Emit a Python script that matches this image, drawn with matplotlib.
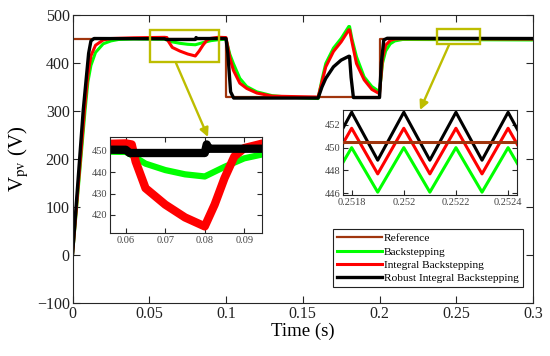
import matplotlib
matplotlib.use("Agg")
import matplotlib.pyplot as plt
from matplotlib.patches import Rectangle

plt.rcParams['font.family'] = ['Liberation Serif', 'DejaVu Serif']
plt.rcParams['mathtext.fontset'] = 'stix'

# ---------------- data ----------------
t_ref = [0, 0.1, 0.1, 0.2, 0.2, 0.3]
v_ref = [450, 450, 330, 330, 450, 450]

t_bs = [0, 0.0082, 0.01, 0.012, 0.015, 0.02, 0.025, 0.03, 0.04, 0.06, 0.0615, 0.065,
        0.07, 0.075, 0.08, 0.085, 0.09, 0.095, 0.1, 0.1025, 0.1048, 0.109, 0.1135,
        0.12, 0.13, 0.14, 0.16, 0.1625, 0.165, 0.17, 0.175, 0.18, 0.1805, 0.182,
        0.185, 0.19, 0.195, 0.2, 0.202, 0.204, 0.207, 0.21, 0.215, 0.22, 0.3]
v_bs = [0, 302, 360, 395, 422, 440, 446, 449, 450, 449.5, 448, 444,
        441, 439, 438, 442.5, 446.5, 448.5, 449.5, 418, 399, 368, 351,
        340, 332, 329, 326, 365, 399, 431, 451, 476, 476, 451,
        413, 371, 351, 340, 400, 425, 440, 446, 449, 449, 448]

t_ibs = [0, 0.0078, 0.01, 0.012, 0.015, 0.02, 0.025, 0.04, 0.06, 0.0615, 0.0625, 0.065,
         0.07, 0.075, 0.08, 0.0825, 0.085, 0.0875, 0.09, 0.095, 0.1, 0.1025, 0.1048,
         0.109, 0.1135, 0.12, 0.13, 0.16, 0.1625, 0.165, 0.17, 0.175, 0.18, 0.1805,
         0.182, 0.185, 0.19, 0.195, 0.2, 0.202, 0.204, 0.207, 0.21, 0.215, 0.3]
v_ibs = [0, 302, 375, 415, 437, 448, 451, 452.5, 453.5, 453, 445, 432.5,
         424.8, 418.8, 414.6, 424.8, 437.2, 447.4, 451.3, 453.6, 453, 411, 385,
         358, 347, 337.5, 331, 329, 360, 392, 424, 444, 469, 469,
         445, 399, 365, 345, 336, 410, 437, 447, 450, 450.5, 450]

t_ribs = [0, 0.007, 0.0105, 0.012, 0.014, 0.06, 0.061, 0.08, 0.0805, 0.081, 0.1,
          0.1012, 0.103, 0.105, 0.16, 0.1625, 0.165, 0.17, 0.175, 0.18, 0.1805,
          0.1815, 0.183, 0.2, 0.2012, 0.2028, 0.205, 0.3]
v_ribs = [0, 302, 420, 446, 451, 450.5, 449, 449, 453, 451, 451,
          420, 340, 327, 327, 350, 368, 392, 406, 414, 414,
          370, 328, 328, 400, 448, 451.5, 451]

# zoomed ripple (right inset)
t_rip = [0.2517, 0.2518, 0.2519, 0.252, 0.2521, 0.2522, 0.2523, 0.2524, 0.2525]
v_rip_ref = [450.5, 450.5, 450.5, 450.5, 450.5, 450.5, 450.5, 450.5, 450.5]
v_rip_bs = [446.1, 450.0, 446.1, 450.0, 446.1, 450.0, 446.1, 450.0, 446.1]
v_rip_ibs = [447.7, 451.7, 447.7, 451.7, 447.7, 451.7, 447.7, 451.7, 447.7]
v_rip_ribs = [448.9, 453.1, 448.9, 453.1, 448.9, 453.1, 448.9, 453.1, 448.9]

labels = ['Reference', 'Backstepping', 'Integral Backstepping', 'Robust Integral Backstepping']
colors = ['#A0350D', '#00FF00', '#FF0000', '#000000']
x_ticks = [0, 0.05, 0.1, 0.15, 0.2, 0.25, 0.3]
x_ticklabels = ['0', '0.05', '0.1', '0.15', '0.2', '0.25', '0.3']
y_ticks = [-100, 0, 100, 200, 300, 400, 500]
ins1_xticks = [0.06, 0.07, 0.08, 0.09]
ins1_yticks = [420, 430, 440, 450]
ins2_xticks = [0.2518, 0.252, 0.2522, 0.2524]
ins2_xticklabels = ['0.2518', '0.252', '0.2522', '0.2524']
ins2_yticks = [446, 448, 450, 452]

# ---------------- figure ----------------
W, H = 550, 356
fig = plt.figure(figsize=(W / 100, H / 100), dpi=100)
axc = '#262626'
olive = '#BDBD00'


def style(ax, size, tcol):
    for s in ax.spines.values():
        s.set_color(axc)
        s.set_linewidth(0.8)
    ax.tick_params(direction='in', top=True, right=True, labelsize=size,
                   colors=axc, labelcolor=tcol, length=3.5, width=0.8, pad=2)


ax = fig.add_axes([72.5 / W, 1 - 303 / H, 460.5 / W, 288 / H])
series = [(t_ref, v_ref), (t_bs, v_bs), (t_ibs, v_ibs), (t_ribs, v_ribs)]
lws = [1.6, 2.2, 2.2, 2.4]
for (tt, vv), c, lab, lw in zip(series, colors, labels, lws):
    ax.plot(tt, vv, color=c, lw=lw, label=lab, solid_joinstyle='round')
ax.set_xlim(0, 0.3)
ax.set_ylim(-100, 500)
ax.set_xticks(x_ticks)
ax.set_xticklabels(x_ticklabels)
ax.set_yticks(y_ticks)
style(ax, 11.5, '#222222')
ax.tick_params(length=5)
ax.set_xlabel('Time (s)', fontsize=13.5, labelpad=1)
ax.set_ylabel(r'V$_{\mathrm{pv}}$ (V)', fontsize=15, labelpad=4)

ax.add_patch(Rectangle((0.0505, 403), 0.045, 66, fill=False, ec=olive, lw=1.7, zorder=6))
ax.add_patch(Rectangle((0.2375, 440), 0.028, 31, fill=False, ec=olive, lw=1.7, zorder=6))

leg = ax.legend(loc='lower right', bbox_to_anchor=(0.978, 0.056), fontsize=8.2,
                frameon=True, fancybox=False, edgecolor='#222222', framealpha=1,
                handlelength=3.9, handletextpad=0.2, labelspacing=0.28,
                borderpad=0.35, borderaxespad=0)
leg.get_frame().set_linewidth(0.8)

# left inset
a1 = fig.add_axes([110 / W, 1 - 233 / H, 152 / W, 96 / H])
a1.plot(t_bs, v_bs, color=colors[1], lw=4.5, solid_joinstyle='round')
a1.plot(t_ibs, v_ibs, color=colors[2], lw=6.0, solid_joinstyle='round')
a1.plot(t_ribs, v_ribs, color=colors[3], lw=6.0, solid_joinstyle='round')
a1.set_xlim(0.056, 0.0945)
a1.set_ylim(411.5, 456.5)
a1.set_xticks(ins1_xticks)
a1.set_xticklabels(['0.06', '0.07', '0.08', '0.09'])
a1.set_yticks(ins1_yticks)
style(a1, 7.5, '#444444')

# right inset
a2 = fig.add_axes([343.3 / W, 1 - 195 / H, 173.4 / W, 85 / H])
a2.plot(t_rip, v_rip_bs, color=colors[1], lw=2.2)
a2.plot(t_rip, v_rip_ibs, color=colors[2], lw=2.2)
a2.plot(t_rip, v_rip_ribs, color=colors[3], lw=2.2)
a2.plot(t_rip, v_rip_ref, color=colors[0], lw=2.2, zorder=5)
a2.set_xlim(0.251768, 0.252433)
a2.set_ylim(445.85, 453.3)
a2.set_xticks(ins2_xticks)
a2.set_xticklabels(ins2_xticklabels)
a2.set_yticks(ins2_yticks)
style(a2, 7.5, '#444444')

# arrows (figure fraction coordinates)
arrow = dict(arrowstyle='-|>', color=olive, lw=1.7, mutation_scale=13, shrinkA=0, shrinkB=0)
fig.add_artist(plt.Annotation('', xy=(208 / W, 1 - 137 / H), xytext=(176 / W, 1 - 63 / H),
                              xycoords='figure fraction', textcoords='figure fraction',
                              arrowprops=arrow))
fig.add_artist(plt.Annotation('', xy=(420 / W, 1 - 110 / H), xytext=(449 / W, 1 - 45 / H),
                              xycoords='figure fraction', textcoords='figure fraction',
                              arrowprops=arrow))

fig.savefig('out.png', dpi=100)
